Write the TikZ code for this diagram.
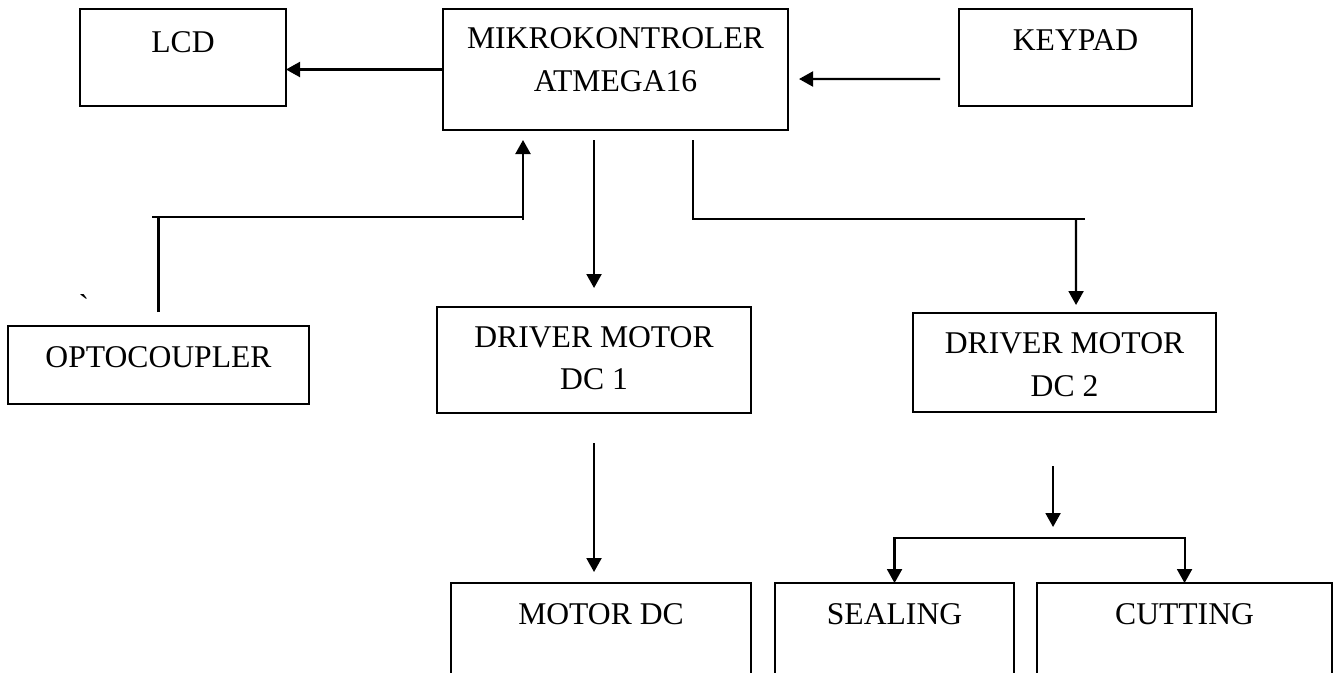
\documentclass[tikz,border=0pt]{standalone}
\usepackage{fontspec}
\setmainfont{Liberation Serif}
\newfontfamily\tickfont{Liberation Serif}[Ligatures=TeXOff]
\usetikzlibrary{arrows.meta, positioning, calc}

\begin{document}
\begin{tikzpicture}[
  x=0.03cm, y=-0.03cm,
  >={Triangle[length=0.42cm, width=0.45cm]},
  box/.style={draw, line width=1.8pt, inner sep=0pt, outer sep=0pt,
              align=center, font=\fontsize{27pt}{36pt}\selectfont},
  wire/.style={line width=1.8pt},
  arr/.style={wire, ->}
]
\useasboundingbox (0,0) rectangle (1333,673);
\clip (0,0) rectangle (1333,673);

% top row
\node[box, anchor=north west, minimum width=6.18cm,
      text height=1.29cm, text depth=1.62cm] (lcd) at (80,9) {LCD};
\node[box, right=4.71cm of lcd.north east, anchor=north west,
      minimum width=10.35cm, text height=2.46cm, text depth=1.17cm]
  (mcu) {MIKROKONTROLER\\ATMEGA16};
\node[box, right=5.13cm of mcu.north east, anchor=north west,
      minimum width=6.99cm, text height=1.23cm, text depth=1.68cm]
  (keypad) {KEYPAD};

% middle row
\node[box, below=6.6cm of lcd.south west, xshift=-2.16cm, anchor=north west,
      minimum width=9.03cm, text height=1.23cm, text depth=1.11cm]
  (opto) {OPTOCOUPLER};
\node[box, below=5.31cm of mcu.south west, xshift=-0.18cm, anchor=north west,
      minimum width=9.42cm, text height=2.47cm, text depth=0.71cm]
  (drv1) {DRIVER MOTOR\\DC 1};
\node[box, right=4.86cm of drv1.north east, yshift=-0.18cm, anchor=north west,
      minimum width=9.09cm, text height=2.49cm, text depth=0.48cm]
  (drv2) {DRIVER MOTOR\\DC 2};
\node[font=\fontsize{27pt}{36pt}\tickfont] (tick) at (84,305) {\char"60};

% bottom row
\node[box, below=5.1cm of drv1.south west, xshift=0.42cm, anchor=north west,
      minimum width=9cm, text height=1.23cm, text depth=2.4cm]
  (motor) {MOTOR DC};
\node[box, right=0.72cm of motor.north east, anchor=north west,
      minimum width=7.17cm, text height=1.23cm, text depth=2.4cm]
  (seal) {SEALING};
\node[box, right=0.69cm of seal.north east, anchor=north west,
      minimum width=8.85cm, text height=1.23cm, text depth=2.4cm]
  (cut) {CUTTING};

% connectors
\coordinate (fbL) at (152,217);
\coordinate (fbR) at (524,217);
\coordinate (brA) at (693,219);
\coordinate (brB) at (1085,219);

\draw[arr] (mcu.west) -- (mcu.west -| lcd.east);
\draw[arr] ($(keypad.west)+(-19,21.5)$) -- ($(mcu.east)+(11,9.5)$);

\draw[wire] ($(opto.north)+(0,-14)$) -- (opto.north |- fbL);
\draw[wire] (fbL) -- (fbR);
\draw[arr] ($(fbR)+(-1,3)$) -- ++(0,-80);

\draw[arr] ($(drv1.north |- mcu.south)+(0,10)$) -- ($(drv1.north)+(0,-19)$);
\draw[wire] ($(brA |- mcu.south)+(0,10)$) -- (brA) -- (brB);
\draw[arr] ($(brB)+(-9,0)$) -- ($(drv2.north)+(11.5,-8)$);

\draw[arr] ($(drv1.south)+(0,30)$) -- ($(motor.north -| drv1.south)+(0,-11)$);
\draw[arr] ($(drv2.south)+(-11.5,54)$) -- ++(0,61);
\draw[wire, <->] (seal.north) |- ($(cut.north)+(0,-45)$) -- (cut.north);
\end{tikzpicture}
\end{document}
